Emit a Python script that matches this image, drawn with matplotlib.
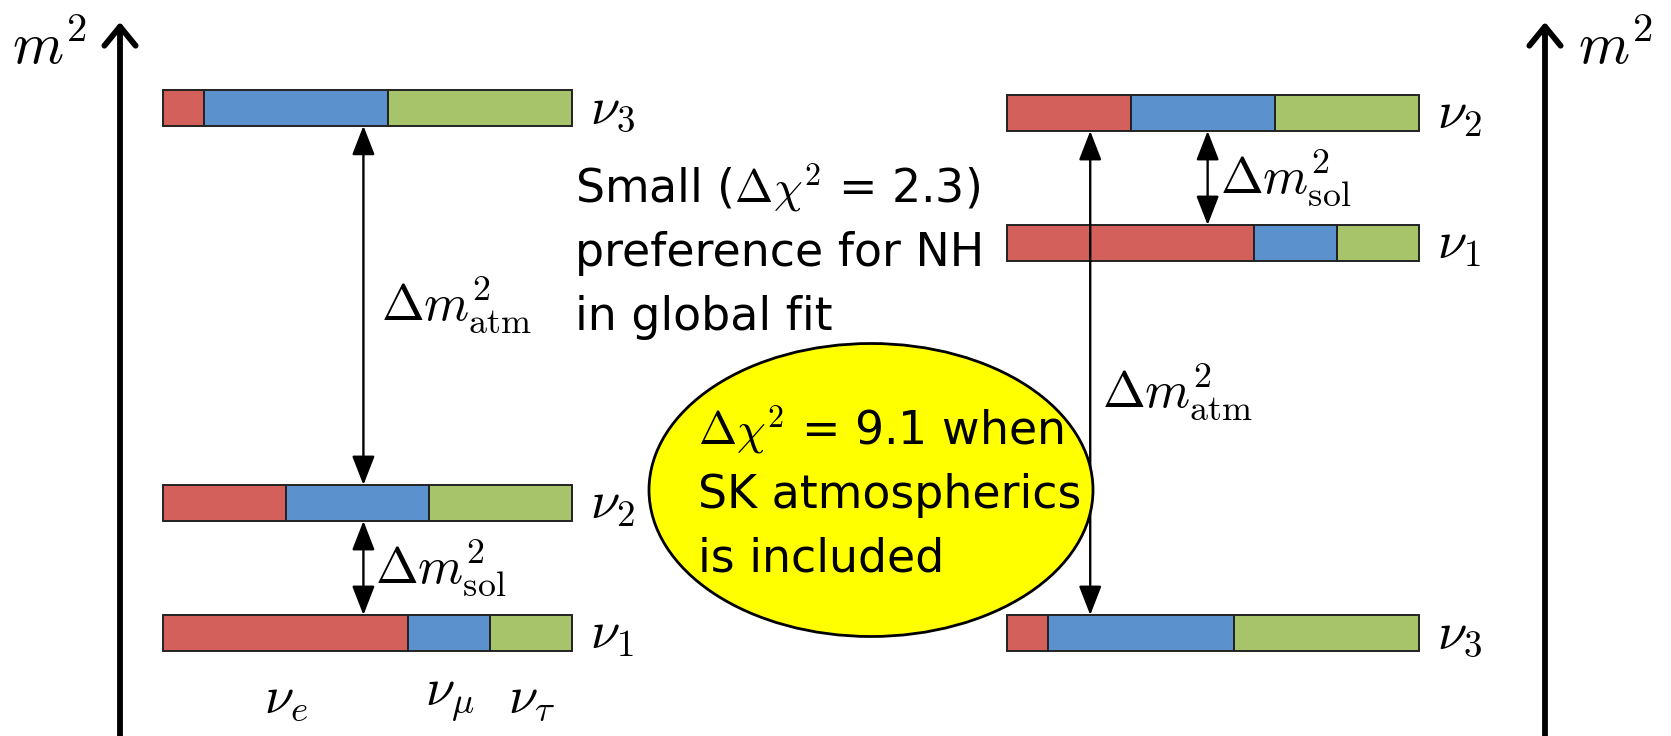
import matplotlib
matplotlib.use('Agg')
import matplotlib.pyplot as plt
from matplotlib.patches import Ellipse

# ---------------- data ----------------
flavor_labels = [r'$\nu_e$', r'$\nu_\mu$', r'$\nu_\tau$']
flavor_colors = ['#d4605b', '#5b92cd', '#a7c46a']
state_labels = [r'$\nu_1$', r'$\nu_2$', r'$\nu_3$']
# flavour content (fractions of e, mu, tau) of nu1, nu2, nu3
nu1_content = [0.60, 0.20, 0.20]
nu2_content = [0.30, 0.35, 0.35]
nu3_content = [0.10, 0.45, 0.45]
contents = [nu1_content, nu2_content, nu3_content]
# m^2 levels of nu1, nu2, nu3 (arbitrary units, solar splitting = 1)
nh_levels = [0.0, 1.0, 4.04]
ih_levels = [3.0, 4.0, 0.0]

note_lines = ['Small ($\\Delta\\chi^2$ = 2.3)', 'preference for NH', 'in global fit']
bubble_lines = ['$\\Delta\\chi^2$ = 9.1 when', 'SK atmospherics', 'is included']

# ---------------- layout ----------------
W, H = 1671, 736
BASE_PX, UNIT_PX = 633.0, 130.0


def Y(py):
    return (BASE_PX - py) / UNIT_PX


BAR_H = 36 / UNIT_PX

plt.rcParams['mathtext.fontset'] = 'cm'
fig = plt.figure(figsize=(W / 100, H / 100), dpi=100)
ax = fig.add_axes([0, 0, 1, 1])
ax.set_xlim(0, W)
ax.set_ylim(Y(H), Y(0))
ax.axis('off')

STATE_FS = 38
DM_FS = 37
TEXT_FS = 33


def draw_hierarchy(x0, width, levels, sol_frac, atm_frac, atm_lower, atm_upper, sol_lower, sol_upper,
                   sol_lab_dx, sol_lab_y, atm_lab_dx, atm_lab_y):
    for i in range(3):
        left = x0
        for j in range(3):
            w = contents[i][j] * width
            ax.barh(levels[i], w, left=left, height=BAR_H, color=flavor_colors[j],
                    edgecolor='#222222', linewidth=1.4, zorder=2)
            left += w
        ax.text(x0 + width + 18, levels[i], state_labels[i], fontsize=STATE_FS,
                ha='left', va='center', zorder=3)
    arrow = dict(arrowstyle='<|-|>,head_length=0.9,head_width=0.35', lw=1.7,
                 color='black', shrinkA=0, shrinkB=0, mutation_scale=20)
    xs = x0 + sol_frac * width
    ax.annotate('', xy=(xs, levels[sol_upper] - BAR_H / 2), xytext=(xs, levels[sol_lower] + BAR_H / 2),
                arrowprops=arrow, zorder=4)
    xa = x0 + atm_frac * width
    ax.annotate('', xy=(xa, levels[atm_upper] - BAR_H / 2), xytext=(xa, levels[atm_lower] + BAR_H / 2),
                arrowprops=arrow, zorder=4)
    ax.text(xs + sol_lab_dx, Y(sol_lab_y), r'$\Delta m^2_{\rm sol}$', fontsize=DM_FS,
            ha='left', va='center')
    ax.text(xa + atm_lab_dx, Y(atm_lab_y), r'$\Delta m^2_{\rm atm}$', fontsize=DM_FS,
            ha='left', va='center')


# normal hierarchy (left)
draw_hierarchy(163, 409, nh_levels, 0.49, 0.49, 1, 2, 0, 1, 12, 568, 18, 305)
# inverted hierarchy (right)
draw_hierarchy(1007, 412, ih_levels, 0.487, 0.202, 2, 1, 0, 1, 12, 178, 12, 392)

# flavour labels under nu1 of left diagram
left = 163
for j in range(3):
    w = nu1_content[j] * 409
    ax.text(left + w / 2, Y(698), flavor_labels[j], fontsize=STATE_FS, ha='center', va='center')
    left += w

# m^2 axes
axis_arrow = dict(arrowstyle='->,head_length=0.55,head_width=0.45', lw=4.2, color='black',
                  shrinkA=0, shrinkB=0, mutation_scale=25)
for xax in (120, 1545):
    ax.annotate('', xy=(xax, Y(22)), xytext=(xax, Y(H + 5)), arrowprops=axis_arrow)
ax.text(12, Y(64), r'$m^2$', fontsize=42, ha='left', va='baseline')
ax.text(1578, Y(64), r'$m^2$', fontsize=42, ha='left', va='baseline')

# annotation text
for k, line in enumerate(note_lines):
    ax.text(575, Y(203 + 63.5 * k), line, fontsize=TEXT_FS, family='DejaVu Sans',
            ha='left', va='baseline', zorder=6)

ell = Ellipse((871, Y(490)), 444, 293 / UNIT_PX, facecolor='#ffff00', edgecolor='black',
              linewidth=2, zorder=5)
ax.add_patch(ell)
for k, line in enumerate(bubble_lines):
    ax.text(698, Y(445 + 63.5 * k), line, fontsize=TEXT_FS, family='DejaVu Sans',
            ha='left', va='baseline', zorder=6)

fig.savefig('out.png', dpi=100, facecolor='white')
